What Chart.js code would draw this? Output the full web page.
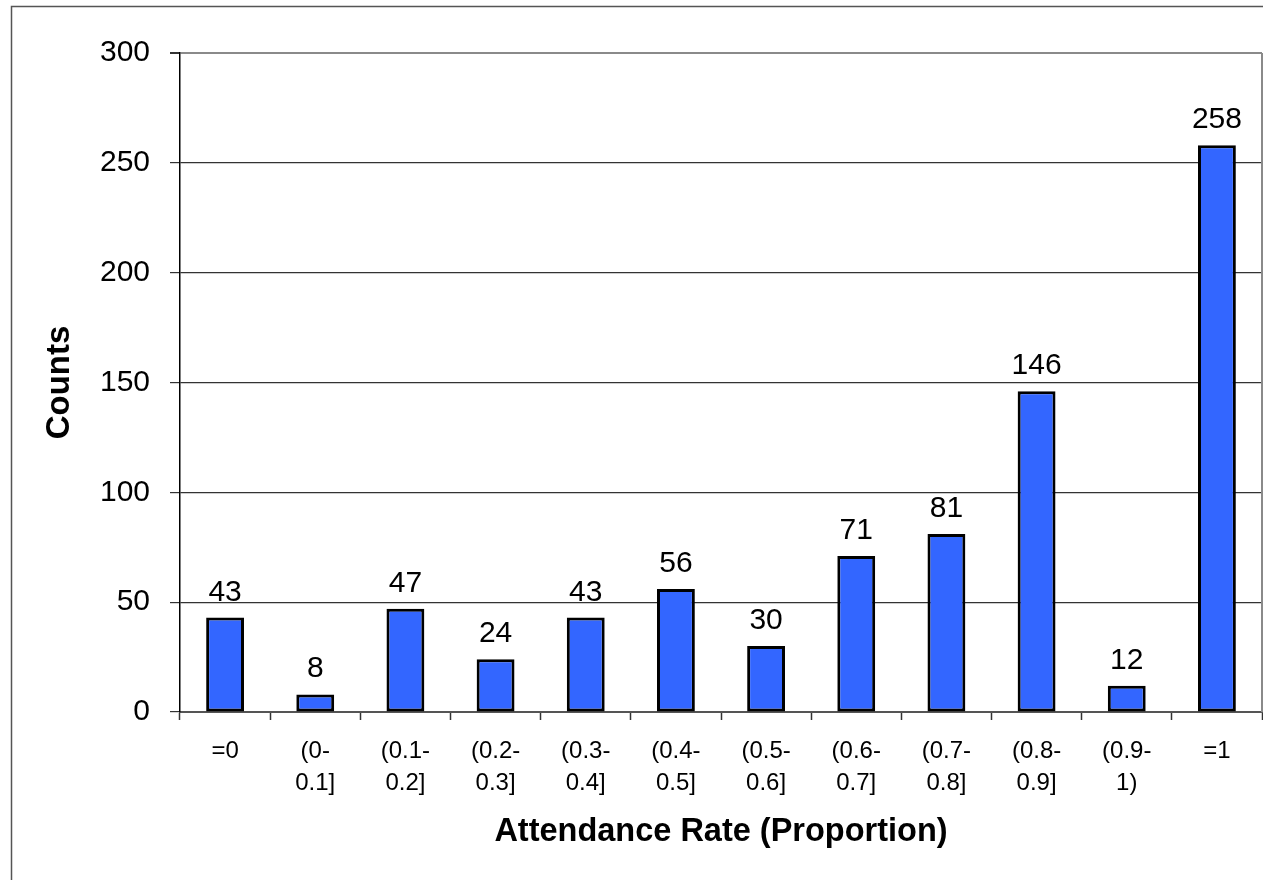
<!DOCTYPE html>
<html>
<head>
<meta charset="utf-8">
<script src="https://cdn.jsdelivr.net/npm/chart.js@4"></script>
<style>
  html, body { margin: 0; padding: 0; background: #ffffff; }
  #wrap { position: relative; width: 1263px; height: 880px; }
</style>
</head>
<body>
<div id="wrap"><canvas id="chart"></canvas></div>
<script>
// Attendance-rate bins and the number of records in each
const categories = [
  ['=0'], ['(0-', '0.1]'], ['(0.1-', '0.2]'], ['(0.2-', '0.3]'], ['(0.3-', '0.4]'],
  ['(0.4-', '0.5]'], ['(0.5-', '0.6]'], ['(0.6-', '0.7]'], ['(0.7-', '0.8]'],
  ['(0.8-', '0.9]'], ['(0.9-', '1)'], ['=1']
];
const counts = [43, 8, 47, 24, 43, 56, 30, 71, 81, 146, 12, 258];
const yTicks = [0, 50, 100, 150, 200, 250, 300];

const FONT = '"Liberation Sans", Arial, sans-serif';

// White page with a thin frame round the whole figure
const framePlugin = {
  id: 'frame',
  beforeDraw(chart) {
    const ctx = chart.ctx;
    ctx.save();
    ctx.fillStyle = '#ffffff';
    ctx.fillRect(0, 0, chart.width, chart.height);
    ctx.strokeStyle = '#555555';
    ctx.lineWidth = 1.5;
    ctx.strokeRect(11.5, 6.5, chart.width + 20, chart.height + 20);
    ctx.restore();
  },
  afterDraw(chart) {
    // right edge of the plot area
    const a = chart.chartArea;
    const ctx = chart.ctx;
    ctx.save();
    ctx.strokeStyle = '#8a8a8a';
    ctx.lineWidth = 2;
    ctx.beginPath();
    ctx.moveTo(a.right, a.top);
    ctx.lineTo(a.right, a.bottom);
    ctx.stroke();
    ctx.restore();
  }
};

// Count written above each bar
const valueLabels = {
  id: 'valueLabels',
  afterDatasetsDraw(chart) {
    const ctx = chart.ctx;
    const meta = chart.getDatasetMeta(0);
    ctx.save();
    ctx.fillStyle = '#000000';
    ctx.font = '30px ' + FONT;
    ctx.textAlign = 'center';
    ctx.textBaseline = 'alphabetic';
    meta.data.forEach((bar, i) => {
      ctx.fillText(String(counts[i]), bar.x, bar.y - 17);
    });
    ctx.restore();
  }
};

new Chart(document.getElementById('chart'), {
  type: 'bar',
  data: {
    labels: categories,
    datasets: [{
      data: counts,
      backgroundColor: '#3366ff',
      borderColor: '#000000',
      borderWidth: 3,
      borderSkipped: false,
      barPercentage: 0.42,
      categoryPercentage: 1.0
    }]
  },
  options: {
    responsive: true,
    maintainAspectRatio: false,
    animation: false,
    devicePixelRatio: 1,
    layout: { padding: { left: 0, top: 53, right: 1, bottom: 0 } },
    plugins: {
      legend: { display: false },
      tooltip: { enabled: false }
    },
    scales: {
      x: {
        offset: true,
        grid: {
          offset: true,
          drawOnChartArea: false,
          drawTicks: true,
          tickLength: 8,
          tickWidth: 1.5,
          tickColor: '#333333'
        },
        border: { display: true, color: '#555555', width: 2 },
        ticks: {
          color: '#000000',
          font: { family: FONT, size: 24, lineHeight: 1.3333 },
          padding: 15,
          maxRotation: 0,
          autoSkip: false
        },
        title: {
          display: true,
          text: 'Attendance Rate (Proportion)',
          color: '#000000',
          font: { family: FONT, size: 32.5, weight: 'bold', lineHeight: 1.2 },
          padding: { top: 0, bottom: 28 }
        },
        afterFit(scale) { scale.height = 168; }
      },
      y: {
        min: 0,
        max: 300,
        afterBuildTicks(scale) { scale.ticks = yTicks.map(v => ({ value: v })); },
        grid: {
          color: (c) => (c.tick && c.tick.value === 300) ? '#8a8a8a' : '#333333',
          lineWidth: (c) => (c.tick && c.tick.value === 300) ? 2 : 1.2,
          tickColor: '#333333',
          tickLength: 10,
          drawTicks: true
        },
        border: { display: true, color: '#000000', width: 1.5 },
        ticks: {
          color: '#000000',
          font: { family: FONT, size: 30 },
          padding: 20
        },
        title: {
          display: true,
          text: 'Counts',
          color: '#000000',
          font: { family: FONT, size: 33, weight: 'bold', lineHeight: 1.2 },
          padding: { top: 40, bottom: 0 }
        },
        afterFit(scale) { scale.width = 180; }
      }
    }
  },
  plugins: [framePlugin, valueLabels]
});
</script>
</body>
</html>
